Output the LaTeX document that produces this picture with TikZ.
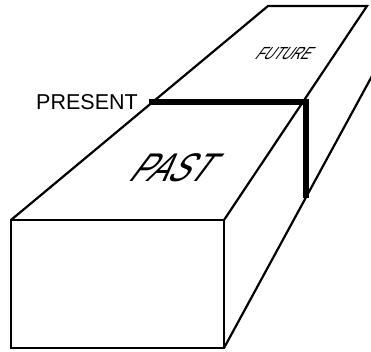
\documentclass[tikz,border=0pt]{standalone}
\usepackage{fontspec}
\setmainfont{Liberation Sans}
\newfontfamily\pastfont{Liberation Sans}[FakeSlant=0.75,FakeStretch=0.76]
\newfontfamily\futfont{Liberation Sans}[FakeSlant=0.75,FakeStretch=0.76]
\begin{document}
\begin{tikzpicture}[x=1pt,y=-1pt,
  edge/.style={line width=2.2pt, line join=miter},
  presentline/.style={line width=6pt, line join=miter},
  lbl/.style={inner sep=0pt}]
\fill[white] (0,0) rectangle (371,351);
\useasboundingbox (0,0) rectangle (371,351);
% box corners
\coordinate (FTL) at (11,220);
\coordinate (FTR) at (224,220);
\coordinate (FBL) at (11,348);
\coordinate (FBR) at (224,348);
\coordinate (BTL) at (268,6);
\coordinate (BTR) at (367,6);
\coordinate (RB) at (372,76);
% present line
\coordinate (PL) at (149,101.8);
\coordinate (PC) at (306,101.8);
\coordinate (PB) at (306,198);
% edges
\draw[edge] (FTL) -- (FTR) -- (FBR) -- (FBL) -- cycle;
\draw[edge] (FTL) -- (BTL) -- (BTR) -- (FTR);
\draw[edge] (FBR) -- (RB);
\draw[presentline] (PL) -- (PC) -- (PB);
% labels
\node[lbl, font=\fontsize{21.5}{21.5}\selectfont] (present) at (87,102) {PRESENT};
\node[lbl, font=\pastfont\fontsize{40}{40}\selectfont] (past) at (166,167.5) {PAST};
\node[lbl, font=\futfont\fontsize{17.5}{17.5}\selectfont] (future) at (281,54) {FUTURE};
\end{tikzpicture}
\end{document}
